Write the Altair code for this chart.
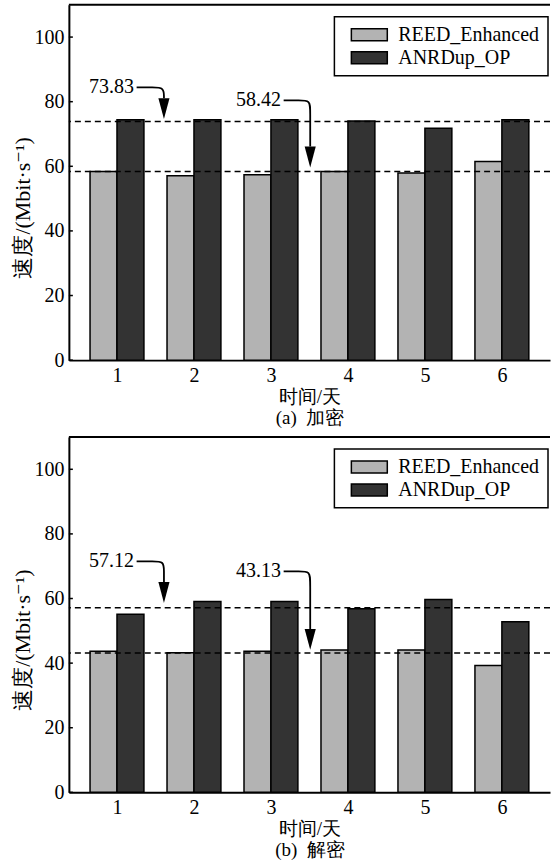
import altair as alt
import pandas as pd

# ---------------- data ----------------
days = [1, 2, 3, 4, 5, 6]
series_names = ["REED_Enhanced", "ANRDup_OP"]
series_colors = ["#b3b3b3", "#333333"]

enc_reed = [58.4, 57.1, 57.4, 58.4, 57.9, 61.5]
enc_anrd = [74.4, 74.4, 74.4, 74.0, 71.8, 74.4]
dec_reed = [43.7, 43.2, 43.7, 44.1, 44.1, 39.3]
dec_anrd = [55.1, 59.1, 59.1, 56.8, 59.7, 52.8]

enc_means = [73.83, 58.42]
dec_means = [57.12, 43.13]

# annotation anchors (data units): text right end x, text y, arrow x, arrow tip y
enc_note_text_x = [1.22, 3.13]
enc_note_text_y = [84.4, 80.4]
enc_note_arrow_x = [1.61, 3.51]
enc_note_tip_y = [74.6, 59.6]

dec_note_text_x = [1.22, 3.13]
dec_note_text_y = [71.5, 68.4]
dec_note_arrow_x = [1.61, 3.51]
dec_note_tip_y = [58.6, 44.1]

y_ticks = [0, 20, 40, 60, 80, 100]
x_domain = [0.375, 6.625]
y_domain = [0, 110]

captions = ["(a)\u2002加密", "(b)\u2002解密"]
x_title = "时间/天"
y_title = "速度/(Mbit·s⁻¹)"

# ---------------- style ----------------
FONT = "Times New Roman, Liberation Serif, DejaVu Serif, serif"
W, H = 482, 356
BAR_W = 0.35
HEAD_H = 6.5  # arrowhead height in value units
HEAD_PATH = "M-0.53,-1L0.53,-1L0,1Z"
LEGEND_SYMBOL = "M-3,-1L3,-1L3,1L-3,1Z"


def panel(reed, anrd, means, nx, ny, ax, tip, caption):
    rows = []
    for d, r, a in zip(days, reed, anrd):
        rows.append({"day": d, "series": series_names[0], "value": r})
        rows.append({"day": d, "series": series_names[1], "value": a})
    df = pd.DataFrame(rows)

    xs = alt.Scale(domain=x_domain, nice=False, zero=False)
    ys = alt.Scale(domain=y_domain, nice=False)

    bars = alt.Chart(df).transform_calculate(
        x0=f"datum.series == '{series_names[0]}' ? datum.day - {BAR_W} : datum.day",
        x1=f"datum.series == '{series_names[0]}' ? datum.day : datum.day + {BAR_W}",
    ).mark_bar(stroke="black", strokeWidth=1.5).encode(
        x=alt.X("x0:Q", scale=xs, axis=alt.Axis(
            values=days, format="d", grid=False, ticks=False, tickSize=0,
            labelFontSize=20, labelFont=FONT, labelPadding=5, labelColor="black",
            domainColor="black", domainWidth=2,
            title=[x_title, caption], titleFont=FONT, titleFontSize=19,
            titleFontWeight="normal", titleColor="black", titleLineHeight=21,
            titlePadding=2)),
        x2="x1:Q",
        y=alt.Y("value:Q", scale=ys, stack=None, axis=alt.Axis(
            values=y_ticks, grid=False, ticks=False, tickSize=0,
            labelFontSize=20, labelFont=FONT, labelPadding=5, labelColor="black",
            domainColor="black", domainWidth=2,
            title=y_title, titleFont=FONT, titleFontSize=22, titleFontWeight="normal",
            titleColor="black", titleAngle=270, titleX=-46, titleY=203,
            titleAlign="center", titleBaseline="middle")),
        y2=alt.datum(0),
        color=alt.Color("series:N", scale=alt.Scale(domain=series_names, range=series_colors),
                        legend=alt.Legend(
                            orient="none", legendX=266, legendY=12, title=None,
                            symbolType=LEGEND_SYMBOL, symbolSize=144,
                            symbolStrokeColor="black", symbolStrokeWidth=1.5,
                            symbolOpacity=1, symbolOffset=17,
                            labelOffset=19, labelFontSize=20, labelFont=FONT,
                            labelColor="black", padding=8, rowPadding=3,
                            strokeColor="black", fillColor="white")),
    )

    mean_df = pd.DataFrame({"m": means})
    dashed = alt.Chart(mean_df).mark_rule(color="black", strokeWidth=1.5,
                                          strokeDash=[6, 4]).encode(
        y=alt.Y("m:Q", scale=ys))

    tick_df = pd.DataFrame({"t": y_ticks})
    ticks = alt.Chart(tick_df).mark_rule(color="black", strokeWidth=1.5).encode(
        y=alt.Y("t:Q", scale=ys), x=alt.value(0), x2=alt.value(4))

    top_border = alt.Chart(pd.DataFrame({"a": [0]})).mark_rule(
        color="black", strokeWidth=2).encode(
        y=alt.value(0), x=alt.value(0), x2=alt.value(W))

    # annotations
    labels = [f"{m:.2f}" for m in means]
    text_df = pd.DataFrame({"label": labels, "x": nx, "y": ny})
    texts = alt.Chart(text_df).mark_text(
        align="right", baseline="middle", fontSize=20, font=FONT, color="black"
    ).encode(x=alt.X("x:Q", scale=xs), y=alt.Y("y:Q", scale=ys), text="label:N")

    path_rows = []
    for i in range(len(labels)):
        head_top = tip[i] + HEAD_H
        pts = [
            (nx[i] + 0.035, ny[i]),
            (ax[i] - 0.14, ny[i]),
            (ax[i], ny[i]),
            (ax[i], max(ny[i] - 3.1, head_top)),
            (ax[i], head_top),
        ]
        for k, (px, py) in enumerate(pts):
            path_rows.append({"id": i, "k": k, "x": px, "y": py})
    path_df = pd.DataFrame(path_rows)
    arrows = alt.Chart(path_df).mark_line(
        color="black", strokeWidth=1.8, interpolate="basis").encode(
        x=alt.X("x:Q", scale=xs), y=alt.Y("y:Q", scale=ys),
        detail="id:N", order="k:Q")

    head_df = pd.DataFrame({"x": ax, "y": [t + HEAD_H / 2 for t in tip]})
    heads = alt.Chart(head_df).mark_point(
        shape=HEAD_PATH, size=441, filled=True, color="black", opacity=1,
        strokeWidth=0).encode(x=alt.X("x:Q", scale=xs), y=alt.Y("y:Q", scale=ys))

    return alt.layer(bars, dashed, ticks, top_border, arrows, heads, texts).properties(
        width=W, height=H)


top = panel(enc_reed, enc_anrd, enc_means, enc_note_text_x, enc_note_text_y,
            enc_note_arrow_x, enc_note_tip_y, captions[0])
bottom = panel(dec_reed, dec_anrd, dec_means, dec_note_text_x, dec_note_text_y,
               dec_note_arrow_x, dec_note_tip_y, captions[1])

chart = alt.vconcat(top, bottom, spacing=9).resolve_legend(
    color="independent").resolve_scale(color="independent").properties(
    padding={"left": 12, "top": 3, "right": 0, "bottom": 0},
    background="white",
).configure(font=FONT).configure_view(stroke=None).configure_legend(strokeWidth=1.5)

chart.save("out.html", embed_options={"renderer": "svg", "actions": False})
